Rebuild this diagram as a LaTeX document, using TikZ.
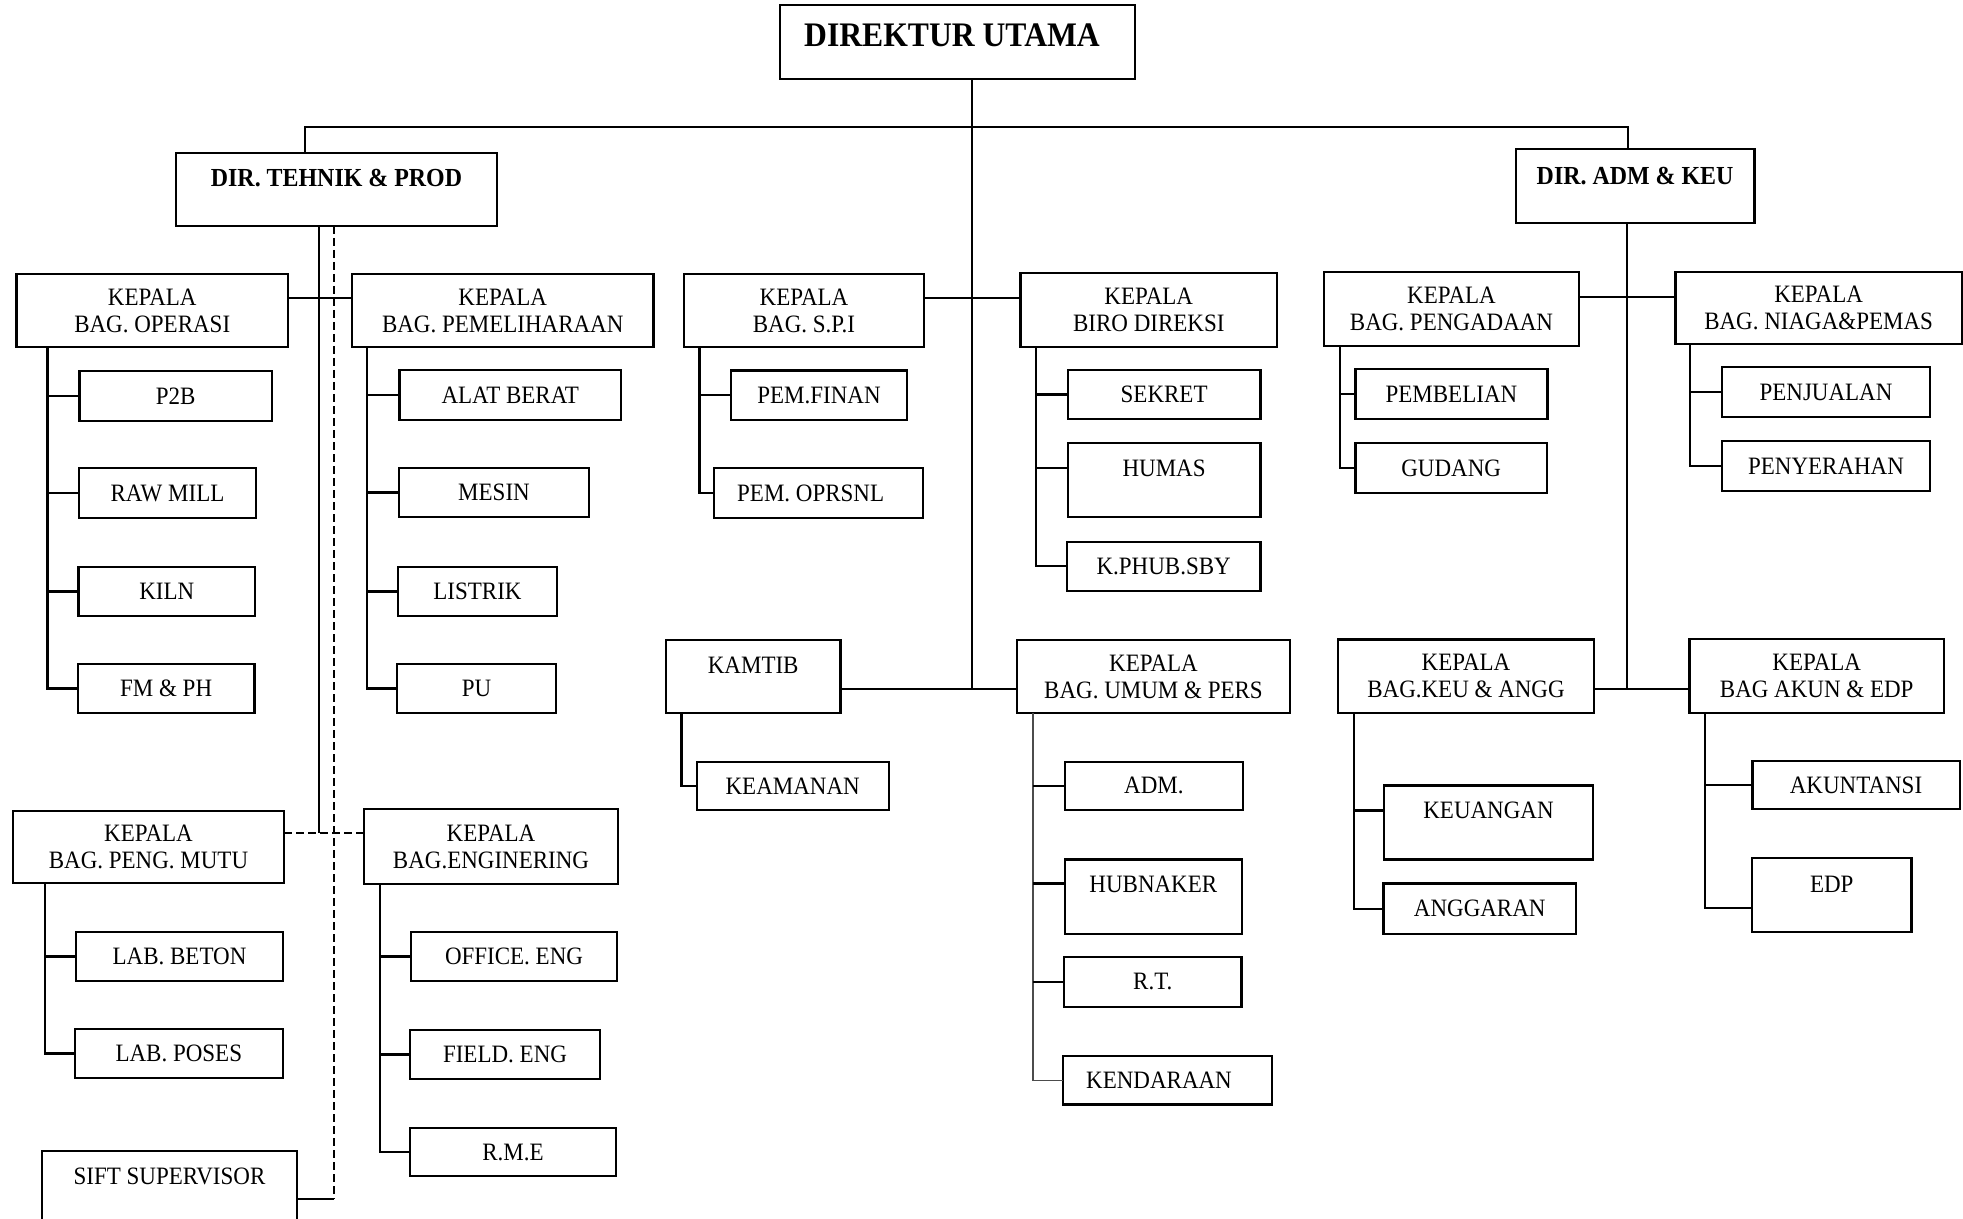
\documentclass[tikz,border=0pt]{standalone}
\usepackage{fontspec}
\setmainfont{Liberation Serif}[FakeStretch=0.92]
\newcommand\regf{\fontsize{12.5}{13.5}\selectfont}
\newcommand\midf{\fontsize{13}{15}\selectfont\bfseries}
\newcommand\bigf{\fontsize{17.2}{20}\selectfont\bfseries}
\newcommand\mybox[6]{%
  \pgfmathsetmacro\bxw{(#4-#2)*0.5}%
  \pgfmathsetmacro\bxh{(#5-#3)*0.5}%
  \pgfmathsetmacro\bxx{(#2+#4)/2}%
  \pgfmathsetmacro\bxy{(#3+#5)/2}%
  \node[box, minimum width=\bxw pt, minimum height=\bxh pt] (#1) at (\bxx,\bxy) {#6};}
\begin{document}
\begin{tikzpicture}[x=0.5pt,y=-0.5pt,
  box/.style={draw, line width=1.1pt, inner sep=0pt, outer sep=0pt, align=center, font=\regf},
  txt/.style={inner sep=0pt, align=center, font=\regf},
  midt/.style={inner sep=0pt, font=\midf},
  bigt/.style={inner sep=0pt, font=\bigf},
  link/.style={line width=1.05pt},
  thinlink/.style={line width=0.6pt, black!70},
  dlink/.style={line width=1.05pt, dash pattern=on 4pt off 2pt}]
\useasboundingbox (0,0) rectangle (1963,1219);
\fill[white] (0,0) rectangle (1963,1219);
\clip (0,0) rectangle (1963,1219);

% top level
\mybox{du}{780}{5}{1135}{79}{}
\node[bigt] (du-t) at ([xshift=-2.75pt,yshift=-15pt]du.north) {DIREKTUR UTAMA};
\mybox{dt}{176}{153}{497}{226}{}
\node[midt] (dt-t) at ([yshift=-12.5pt]dt.north) {DIR. TEHNIK \& PROD};
\mybox{da}{1515.6}{149}{1754.5}{222.7}{}
\node[midt] (da-t) at ([yshift=-13.5pt]da.north) {DIR. ADM \& KEU};

% left side
\mybox{ops}{16.5}{274}{288}{347}{KEPALA\\BAG. OPERASI}
\mybox{pem}{352}{274}{653.5}{347}{KEPALA\\BAG. PEMELIHARAAN}
\mybox{p2b}{79.5}{371}{272}{421}{P2B}
\mybox{raw}{79}{468}{256}{518}{RAW MILL}
\mybox{kiln}{78.5}{567}{255}{616}{KILN}
\mybox{fmph}{77.7}{664}{254.5}{713}{FM \& PH}
\mybox{alat}{399.5}{370}{621}{420}{ALAT BERAT}
\mybox{mesin}{399}{468}{589}{517}{MESIN}
\mybox{listrik}{398}{567}{557}{616}{LISTRIK}
\mybox{pu}{397}{664}{556}{713}{PU}
\mybox{mutu}{13}{811}{284}{883}{KEPALA\\BAG. PENG. MUTU}
\mybox{labb}{76}{932}{283}{981}{LAB. BETON}
\mybox{labp}{75}{1029}{282.6}{1078}{LAB. POSES}
\mybox{sift}{42}{1151}{297}{1260}{}
\node[txt] (sift-t) at ([yshift=-12.5pt]sift.north) {SIFT SUPERVISOR};
\mybox{eng}{364}{809}{618}{884}{KEPALA\\BAG.ENGINERING}
\mybox{off}{411}{932}{617}{981}{OFFICE. ENG}
\mybox{field}{410}{1030}{600}{1079}{FIELD. ENG}
\mybox{rme}{410}{1128}{616}{1176}{R.M.E}

% centre
\mybox{spi}{684}{274}{924}{347}{KEPALA\\BAG. S.P.I}
\mybox{biro}{1020.5}{273}{1277}{347}{KEPALA\\BIRO DIREKSI}
\mybox{finan}{731}{370.6}{907}{420}{PEM.FINAN}
\mybox{oprs}{713.7}{468}{922.6}{518}{}
\node[txt] (oprs-t) at ([xshift=-3.75pt]oprs.center) {PEM. OPRSNL};
\mybox{sekret}{1067.7}{370}{1260.5}{419}{SEKRET}
\mybox{humas}{1067.7}{443}{1260.5}{517}{}
\node[txt] (humas-t) at ([yshift=-12.5pt]humas.north) {HUMAS};
\mybox{kphub}{1066.8}{541.7}{1260.5}{590.7}{K.PHUB.SBY}
\mybox{kamtib}{666}{640}{840.4}{713}{}
\node[txt] (kamtib-t) at ([yshift=-12.5pt]kamtib.north) {KAMTIB};
\mybox{umum}{1017}{640}{1290}{713}{KEPALA\\BAG. UMUM \& PERS}
\mybox{keam}{696.7}{761.7}{888.7}{810}{KEAMANAN}
\mybox{adm}{1065}{761.7}{1242.7}{810}{ADM.}
\mybox{hub}{1064.7}{859.4}{1242}{933.6}{}
\node[txt] (hub-t) at ([yshift=-12.3pt]hub.north) {HUBNAKER};
\mybox{rt}{1064}{957}{1241.5}{1006.6}{R.T.}
\mybox{kend}{1063}{1056}{1272}{1104.5}{}
\node[txt] (kend-t) at ([xshift=-4.25pt]kend.center) {KENDARAAN};

% right side
\mybox{pgd}{1324}{272}{1579}{345.7}{KEPALA\\BAG. PENGADAAN}
\mybox{niaga}{1675.5}{271.7}{1961.7}{344}{KEPALA\\BAG. NIAGA\&PEMAS}
\mybox{beli}{1355.4}{369}{1547.4}{419}{PEMBELIAN}
\mybox{gud}{1355.4}{443}{1547}{493}{GUDANG}
\mybox{jual}{1722}{367}{1930}{417}{PENJUALAN}
\mybox{serah}{1722}{441}{1930}{491}{PENYERAHAN}
\mybox{keu}{1338}{639.5}{1594}{713.3}{KEPALA\\BAG.KEU \& ANGG}
\mybox{akun}{1689.4}{639}{1944}{712.7}{KEPALA\\BAG AKUN \& EDP}
\mybox{keuang}{1384}{785.5}{1593}{859.4}{}
\node[txt] (keuang-t) at ([yshift=-12.3pt]keuang.north) {KEUANGAN};
\mybox{angg}{1383.5}{883.5}{1576}{933.6}{ANGGARAN}
\mybox{akt}{1752.4}{761}{1959.6}{809}{AKUNTANSI}
\mybox{edp}{1752}{858}{1911.4}{932}{}
\node[txt] (edp-t) at ([yshift=-13pt]edp.north) {EDP};

% junction coordinates
\coordinate (j1) at (972,689);
\coordinate (j2) at (1627,689);
\coordinate (r1) at (972,298);
\coordinate (r2) at (1627,296.7);
\coordinate (tL) at (305,127);
\coordinate (tR) at (1628,127);
\coordinate (s1) at (319,833);
\coordinate (d1) at (334,1199);

% main connectors
\draw[link] (du.south -| j1) -- (j1);
\draw[link] (dt.north -| tL) |- (tR) -- (da.north -| tR);
\draw[link] (da.south -| j2) -- (j2);
\draw[link] (kamtib.east |- j1) -- (umum.west |- j1);
\draw[link] (keu.east |- j2) -- (akun.west |- j2);
\draw[link] (spi.east |- r1) -- (biro.west |- r1);
\draw[link] (ops.east |- r1) -- (pem.west |- r1);
\draw[link] (pgd.east |- r2) -- (niaga.west |- r2);
\draw[link] (dt.south -| s1) -- (s1);
\draw[dlink] (dt.south -| d1) -- (d1);
\draw[link] (d1) -- (sift.east |- d1);
\draw[dlink] (mutu.east |- s1) -- (eng.west |- s1);

% spines
\coordinate (xops) at (47.5,0);
\coordinate (xpem) at (367,0);
\coordinate (xmutu) at (44.6,0);
\coordinate (xeng) at (380,0);
\coordinate (xspi) at (699.5,0);
\coordinate (xbiro) at (1036,0);
\coordinate (xkam) at (681.5,0);
\coordinate (xumum) at (1033,0);
\coordinate (xpgd) at (1340,0);
\coordinate (xnia) at (1690,0);
\coordinate (xkeu) at (1354,0);
\coordinate (xakun) at (1704.6,0);

\foreach \c in {p2b,raw,kiln,fmph} \draw[link] (ops.south -| xops) |- (\c.west);
\foreach \c in {alat,mesin,listrik,pu} \draw[link] (pem.south -| xpem) |- (\c.west);
\foreach \c in {labb,labp} \draw[link] (mutu.south -| xmutu) |- (\c.west);
\foreach \c in {off,field,rme} \draw[link] (eng.south -| xeng) |- (\c.west);
\foreach \c in {finan,oprs} \draw[link] (spi.south -| xspi) |- (\c.west);
\draw[link] (biro.south -| xbiro) |- (sekret.west);
\draw[link] (biro.south -| xbiro) |- ([yshift=6pt]humas.west);
\draw[link] (biro.south -| xbiro) |- (kphub.west);
\draw[link] (kamtib.south -| xkam) |- (keam.west);
\draw[thinlink] (umum.south -| xumum) |- (kend.west);
\draw[link] (xumum |- adm.west) -- (adm.west);
\draw[link] (xumum |- hub.west) ++(0,-13) -- ([yshift=6.5pt]hub.west);
\draw[link] (xumum |- rt.west) -- (rt.west);
\foreach \c in {beli,gud} \draw[link] (pgd.south -| xpgd) |- (\c.west);
\foreach \c in {jual,serah} \draw[link] (niaga.south -| xnia) |- (\c.west);
\draw[link] (keu.south -| xkeu) |- ([yshift=6pt]keuang.west);
\draw[link] (keu.south -| xkeu) |- (angg.west);
\draw[link] (akun.south -| xakun) |- (akt.west);
\draw[link] (akun.south -| xakun) |- ([yshift=-6.3pt]edp.west);
\end{tikzpicture}
\end{document}
